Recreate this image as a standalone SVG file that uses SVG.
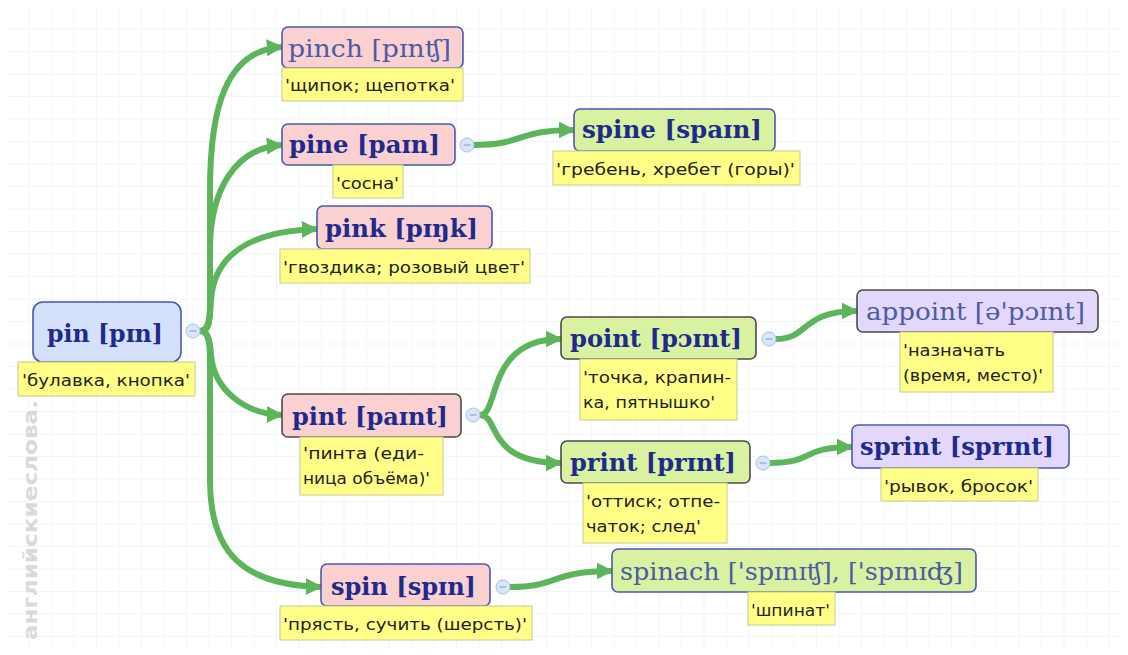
<svg xmlns="http://www.w3.org/2000/svg" width="1128" height="655" viewBox="0 0 1128 655">
<defs>
<pattern id="grid" x="7" y="7" width="22.5" height="22.5" patternUnits="userSpaceOnUse">
<path d="M22.5,0 V22.5 M0,22.5 H22.5" fill="none" stroke="#e3edf3" stroke-width="1"/>
</pattern>
<marker id="arr" viewBox="0 0 10 10" refX="9" refY="5" markerWidth="17" markerHeight="17" markerUnits="userSpaceOnUse" orient="auto">
<path d="M0,0 L10,5 L0,10 z" fill="#5cb55a"/>
</marker>
</defs>
<style>
.edge{fill:none;stroke:#5cb55a;stroke-width:6;stroke-linecap:round}
.nb{stroke:#4a58b0;stroke-width:1.6}
.nd{stroke:#4a4a4a;stroke-width:1.6}
.blue{fill:#d5e1fb}
.pink{fill:#fbd0d0}
.green{fill:#d8f2a2}
.lav{fill:#e3d8fb}
.t{font-family:"DejaVu Serif","Liberation Serif",serif;font-size:25px;fill:#1e2a8c;font-weight:bold}
.tl{font-family:"DejaVu Serif","Liberation Serif",serif;font-size:25px;fill:#4d5aa6}
.lab{fill:#ffff88;stroke:#c8c890;stroke-width:1}
.lt{font-family:"DejaVu Sans","Liberation Sans",sans-serif;font-size:16px;fill:#222}
.col{fill:#d9e7fb;stroke:#a9c0e6;stroke-width:1}
.minus{stroke:#8a9ab8;stroke-width:1}
</style>
<rect x="0" y="0" width="1128" height="655" fill="#ffffff"/>
<rect x="7" y="7" width="1114" height="641" fill="url(#grid)"/>
<text transform="translate(37,640) rotate(-90)" font-family="DejaVu Sans, sans-serif" font-size="20" font-weight="bold" fill="#d6dadd" textLength="240" lengthAdjust="spacingAndGlyphs">английскиеслова.</text>

<g id="connectors">
<path class="edge" d="M200,331 C208,331 210,325 210,305 L210,190 C210,110 225,50 282,47" marker-end="url(#arr)"/>
<path class="edge" d="M200,331 C208,331 210,325 210,305 L210,250 C210,190 235,148 282,145" marker-end="url(#arr)"/>
<path class="edge" d="M200,331 C208,331 210,320 211,300 C214,255 250,231 317,229" marker-end="url(#arr)"/>
<path class="edge" d="M200,331 C208,331 210,340 211,355 C214,390 245,414 282,415" marker-end="url(#arr)"/>
<path class="edge" d="M200,331 C208,331 210,340 210,360 L210,480 C210,555 245,585 321,587" marker-end="url(#arr)"/>
<path class="edge" d="M474,145 C525,145 515,130 574,130" marker-end="url(#arr)"/>
<path class="edge" d="M480,415 C500,415 485,339 561,339" marker-end="url(#arr)"/>
<path class="edge" d="M480,415 C500,415 485,463 561,463" marker-end="url(#arr)"/>
<path class="edge" d="M776,339 C810,339 800,311 857,311" marker-end="url(#arr)"/>
<path class="edge" d="M770,463 C815,463 800,447 852,447" marker-end="url(#arr)"/>
<path class="edge" d="M510,587 C560,587 550,571 612,571" marker-end="url(#arr)"/>
</g>

<g id="pin">
<rect class="blue nb" x="33" y="302" width="148" height="60" rx="10"/>
<text class="t" x="47" y="342" font-size="26" textLength="116" lengthAdjust="spacingAndGlyphs">pin [pɪn]</text>
<rect class="lab" x="18" y="362" width="177" height="34"/>
<text class="lt" x="22" y="386" textLength="168" lengthAdjust="spacingAndGlyphs">'булавка, кнопка'</text>
<circle class="col" cx="193" cy="331" r="7"/>
<path class="minus" d="M189.5,331 H196.5"/>
</g>

<g id="pinch">
<rect class="pink nb" x="282" y="27" width="181" height="41" rx="6"/>
<text class="tl" x="288" y="57" textLength="163" lengthAdjust="spacingAndGlyphs">pinch [pɪnʧ]</text>
<rect class="lab" x="282" y="68" width="181" height="33"/>
<text class="lt" x="285" y="91" textLength="170" lengthAdjust="spacingAndGlyphs">'щипок; щепотка'</text>
</g>

<g id="pine">
<rect class="pink nb" x="282" y="124" width="173" height="41" rx="6"/>
<text class="t" x="289" y="153" textLength="151" lengthAdjust="spacingAndGlyphs">pine [paɪn]</text>
<rect class="lab" x="333" y="165" width="70" height="33"/>
<text class="lt" x="336" y="189" textLength="63" lengthAdjust="spacingAndGlyphs">'сосна'</text>
<circle class="col" cx="467" cy="145" r="7"/>
<path class="minus" d="M463.5,145 H470.5"/>
</g>

<g id="pink">
<rect class="pink nb" x="317" y="206" width="175" height="43" rx="6"/>
<text class="t" x="325" y="237" textLength="153" lengthAdjust="spacingAndGlyphs">pink [pɪŋk]</text>
<rect class="lab" x="280" y="249" width="250" height="34"/>
<text class="lt" x="283" y="273" textLength="242" lengthAdjust="spacingAndGlyphs">'гвоздика; розовый цвет'</text>
</g>

<g id="spine">
<rect class="green nb" x="574" y="109" width="201" height="42" rx="6"/>
<text class="t" x="582" y="138" textLength="180" lengthAdjust="spacingAndGlyphs">spine [spaɪn]</text>
<rect class="lab" x="553" y="151" width="247" height="34"/>
<text class="lt" x="556" y="175" textLength="239" lengthAdjust="spacingAndGlyphs">'гребень, хребет (горы)'</text>
</g>

<g id="pint">
<rect class="pink nd" x="282" y="394" width="179" height="43" rx="6"/>
<text class="t" x="292" y="425" textLength="156" lengthAdjust="spacingAndGlyphs">pint [paɪnt]</text>
<rect class="lab" x="300" y="437" width="143" height="58"/>
<text class="lt" x="303" y="459" textLength="121" lengthAdjust="spacingAndGlyphs">'пинта (еди-</text>
<text class="lt" x="303" y="484" textLength="127" lengthAdjust="spacingAndGlyphs">ница объёма)'</text>
<circle class="col" cx="473" cy="415" r="7"/>
<path class="minus" d="M469.5,415 H476.5"/>
</g>

<g id="point">
<rect class="green nd" x="561" y="317" width="195" height="42" rx="6"/>
<text class="t" x="570" y="347" textLength="172" lengthAdjust="spacingAndGlyphs">point [pɔɪnt]</text>
<rect class="lab" x="580" y="359" width="157" height="61"/>
<text class="lt" x="583" y="383" textLength="148" lengthAdjust="spacingAndGlyphs">'точка, крапин-</text>
<text class="lt" x="583" y="408" textLength="132" lengthAdjust="spacingAndGlyphs">ка, пятнышко'</text>
<circle class="col" cx="769" cy="339" r="7"/>
<path class="minus" d="M765.5,339 H772.5"/>
</g>

<g id="print">
<rect class="green nd" x="561" y="441" width="189" height="42" rx="6"/>
<text class="t" x="570" y="471" textLength="166" lengthAdjust="spacingAndGlyphs">print [prɪnt]</text>
<rect class="lab" x="583" y="483" width="144" height="60"/>
<text class="lt" x="586" y="507" textLength="134" lengthAdjust="spacingAndGlyphs">'оттиск; отпе-</text>
<text class="lt" x="586" y="532" textLength="115" lengthAdjust="spacingAndGlyphs">чаток; след'</text>
<circle class="col" cx="763" cy="463" r="7"/>
<path class="minus" d="M759.5,463 H766.5"/>
</g>

<g id="appoint">
<rect class="lav nd" x="857" y="290" width="241" height="42" rx="6"/>
<text class="tl" x="866" y="320" textLength="219" lengthAdjust="spacingAndGlyphs">appoint [ə'pɔɪnt]</text>
<rect class="lab" x="900" y="332" width="153" height="60"/>
<text class="lt" x="903" y="356" textLength="102" lengthAdjust="spacingAndGlyphs">'назначать</text>
<text class="lt" x="903" y="381" textLength="140" lengthAdjust="spacingAndGlyphs">(время, место)'</text>
</g>

<g id="sprint">
<rect class="lav nb" x="852" y="425" width="217" height="43" rx="6"/>
<text class="t" x="860" y="455" textLength="194" lengthAdjust="spacingAndGlyphs">sprint [sprɪnt]</text>
<rect class="lab" x="881" y="468" width="157" height="33"/>
<text class="lt" x="884" y="492" textLength="149" lengthAdjust="spacingAndGlyphs">'рывок, бросок'</text>
</g>

<g id="spin">
<rect class="pink nb" x="321" y="564" width="169" height="42" rx="6"/>
<text class="t" x="331" y="595" textLength="145" lengthAdjust="spacingAndGlyphs">spin [spɪn]</text>
<rect class="lab" x="280" y="606" width="252" height="34"/>
<text class="lt" x="283" y="630" textLength="244" lengthAdjust="spacingAndGlyphs">'прясть, сучить (шерсть)'</text>
<circle class="col" cx="503" cy="587" r="7"/>
<path class="minus" d="M499.5,587 H506.5"/>
</g>

<g id="spinach">
<rect class="green nb" x="612" y="549" width="364" height="43" rx="6"/>
<text class="tl" x="620" y="580" textLength="343" lengthAdjust="spacingAndGlyphs">spinach ['spɪnɪʧ], ['spɪnɪʤ]</text>
<rect class="lab" x="748" y="592" width="87" height="33"/>
<text class="lt" x="751" y="616" textLength="79" lengthAdjust="spacingAndGlyphs">'шпинат'</text>
</g>
</svg>
